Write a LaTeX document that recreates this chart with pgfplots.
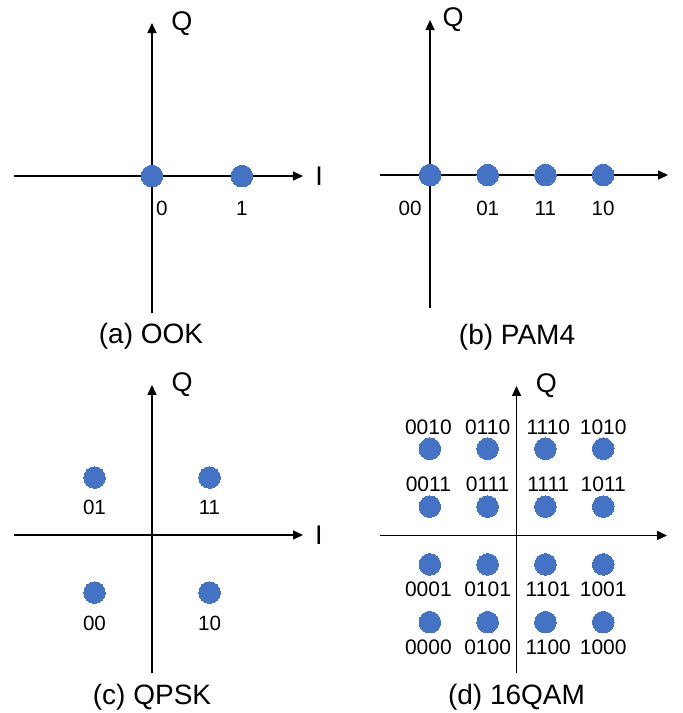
\documentclass[border=0pt]{standalone}
\usepackage{pgfplots}
\pgfplotsset{compat=1.18}
\usepackage{fontspec}
\setmainfont{Liberation Sans}
\usetikzlibrary{arrows.meta}
\definecolor{dotblue}{HTML}{4472C4}
\pgfplotsset{
  constel/.style={
    axis lines=middle, xtick=\empty, ytick=\empty, enlargelimits=false, clip=false,
    axis line style={line width=0.7pt, -{Triangle[length=5pt,width=4.5pt]}},
    anchor=south west,
  },
  dots/.style={color=dotblue, only marks, mark=*, mark size=5.4pt, mark options={draw=dotblue, fill=dotblue, line width=0pt}},
}
\newcommand\lab{\fontsize{10.3}{12}\selectfont}
\newcommand\labd{\fontsize{10.5}{12}\selectfont}
\newcommand\axl{\fontsize{13.5}{15}\selectfont}
\newcommand\captfont{\fontsize{14}{16}\selectfont}
\begin{document}
\begin{tikzpicture}
\useasboundingbox (0,0) rectangle (341.5pt,-356.5pt);
% (a) OOK
\begin{axis}[constel, at={(7pt,-156.5pt)}, x=45pt, y=45pt,
  xmin=-1.533, xmax=1.678, ymin=-1.522, ymax=1.7]
\addplot[dots] coordinates {(0,0) (1,0)};
\node[font=\axl] at (axis cs:0.333,1.689) {Q};
\node[font=\axl] at (axis cs:1.856,0) {I};
\node[font=\lab] at (axis cs:0.111,-0.356) {0};
\node[font=\lab] at (axis cs:1,-0.356) {1};
\node[font=\captfont] at (axis cs:-0.011,-1.778) {(a) OOK};
\end{axis}
% (b) PAM4
\begin{axis}[constel, at={(190pt,-154pt)}, x=28.85pt, y=28.85pt,
  xmin=-0.867, xmax=4.125, ymin=-2.305, ymax=2.686]
\addplot[dots] coordinates {(0,0) (1,0) (2,0) (3,0)};
\node[font=\axl] at (axis cs:0.4,2.70) {Q};
\node[font=\lab] at (axis cs:-0.347,-0.572) {00};
\node[font=\lab] at (axis cs:1,-0.572) {01};
\node[font=\lab] at (axis cs:2,-0.572) {11};
\node[font=\lab] at (axis cs:3,-0.572) {10};
\node[font=\captfont] at (axis cs:1.508,-2.81) {(b) PAM4};
\end{axis}
% (c) QPSK
\begin{axis}[constel, at={(7pt,-336.5pt)}, x=28.75pt, y=28.75pt,
  xmin=-2.4, xmax=2.626, ymin=-2.4, ymax=2.609]
\addplot[dots] coordinates {(-1,1) (1,1) (-1,-1) (1,-1)};
\node[font=\axl] at (axis cs:0.522,2.609) {Q};
\node[font=\axl] at (axis cs:2.904,0) {I};
\node[font=\lab] at (axis cs:-1,0.487) {01};
\node[font=\lab] at (axis cs:1,0.487) {11};
\node[font=\lab] at (axis cs:-1,-1.53) {00};
\node[font=\lab] at (axis cs:1,-1.53) {10};
\node[font=\captfont] at (axis cs:0,-2.817) {(c) QPSK};
\end{axis}
% (d) 16QAM
\begin{axis}[constel, at={(190pt,-336.5pt)}, x=14.45pt, y=14.45pt,
  xmin=-4.724, xmax=5.207, ymin=-4.759, ymax=5.172]
\addplot[dots] coordinates {
  (-3,3) (-1,3) (1,3) (3,3)
  (-3,1) (-1,1) (1,1) (3,1)
  (-3,-1) (-1,-1) (1,-1) (3,-1)
  (-3,-3) (-1,-3) (1,-3) (3,-3)};
\node[font=\axl] at (axis cs:1.035,5.19) {Q};
\node[font=\labd] at (axis cs:-3.05,3.76) {0010};
\node[font=\labd] at (axis cs:-1.0,3.76) {0110};
\node[font=\labd] at (axis cs:1.1,3.76) {1110};
\node[font=\labd] at (axis cs:3.0,3.76) {1010};
\node[font=\labd] at (axis cs:-3.05,1.78) {0011};
\node[font=\labd] at (axis cs:-1.0,1.78) {0111};
\node[font=\labd] at (axis cs:1.1,1.78) {1111};
\node[font=\labd] at (axis cs:3.0,1.78) {1011};
\node[font=\labd] at (axis cs:-3.05,-1.87) {0001};
\node[font=\labd] at (axis cs:-1.0,-1.87) {0101};
\node[font=\labd] at (axis cs:1.1,-1.87) {1101};
\node[font=\labd] at (axis cs:3.0,-1.87) {1001};
\node[font=\labd] at (axis cs:-3.05,-3.875) {0000};
\node[font=\labd] at (axis cs:-1.0,-3.875) {0100};
\node[font=\labd] at (axis cs:1.1,-3.875) {1100};
\node[font=\labd] at (axis cs:3.0,-3.875) {1000};
\node[font=\captfont] at (axis cs:0,-5.6) {(d) 16QAM};
\end{axis}
\end{tikzpicture}
\end{document}
